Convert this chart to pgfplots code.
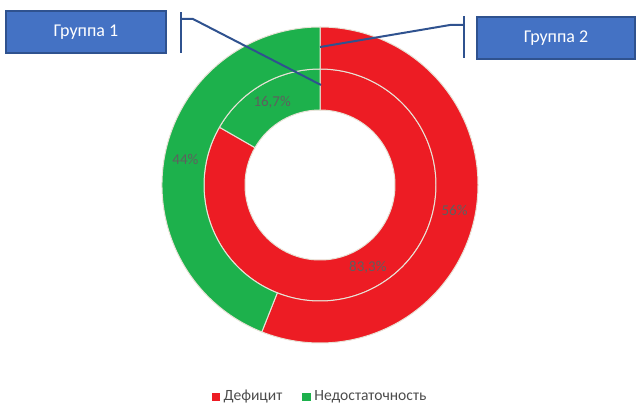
\documentclass[border=0pt]{standalone}
\usepackage{pgfplots}
\pgfplotsset{compat=1.18}
\usepackage{pgfplotstable}
\usepackage{fontspec}
\setmainfont{Carlito}
\definecolor{cred}{RGB}{237,28,36}
\definecolor{cgreen}{RGB}{29,177,76}
\definecolor{cbox}{RGB}{68,114,196}
\definecolor{cboxd}{RGB}{47,82,143}
\definecolor{clab}{RGB}{95,95,95}
\definecolor{sepcol}{RGB}{232,226,214}

% ring data: inner = Группа 1, outer = Группа 2
\pgfplotstableread{
ring  rin  rout  deficit  insuff
inner 75   116   83.3     16.7
outer 116  158   56       44
}\rings

\newcommand\sector[3]{%
  \filldraw[fill=#1, draw=sepcol, line width=0.5bp]
    ([shift={(#2:\Ro)}]axis cs:320,220) arc[start angle=#2, end angle=#3, radius=\Ro]
    -- ([shift={(#3:\Ri)}]axis cs:320,220) arc[start angle=#3, end angle=#2, radius=\Ri] -- cycle;}

\newcommand\drawring[1]{%
  \pgfplotstablegetelem{#1}{rin}\of\rings \pgfmathsetmacro\rin{\pgfplotsretval}%
  \pgfplotstablegetelem{#1}{rout}\of\rings \pgfmathsetmacro\rout{\pgfplotsretval}%
  \pgfplotstablegetelem{#1}{deficit}\of\rings \pgfmathsetmacro\vd{\pgfplotsretval}%
  \pgfplotstablegetelem{#1}{insuff}\of\rings \pgfmathsetmacro\vi{\pgfplotsretval}%
  \pgfmathsetmacro\aA{90}%
  \pgfmathsetmacro\aB{90-3.6*\vd}%
  \pgfmathsetmacro\aC{\aB-3.6*\vi}%
  \pgfmathsetlengthmacro\Ro{\rout*0.5bp}%
  \pgfmathsetlengthmacro\Ri{\rin*0.5bp}%
  \pgfmathsetlengthmacro\Rm{(\rin+\rout)*0.25bp}%
  \sector{cred}{\aA}{\aB}%
  \sector{cgreen}{\aB}{\aC}%
  \pgfmathsetmacro\mA{(\aA+\aB)/2}%
  \pgfmathsetmacro\mB{(\aB+\aC)/2}%
  \node[lab] at ([shift={(\mA:\Rm)}]axis cs:320,220) {\pgfmathprintnumber{\vd}\%};%
  \node[lab] at ([shift={(\mB:\Rm)}]axis cs:320,220) {\pgfmathprintnumber{\vi}\%};%
}

\begin{document}
\begin{tikzpicture}
\tikzset{lab/.style={font=\fontsize{7.5bp}{9bp}\selectfont, text=clab, inner sep=0pt}}
\begin{axis}[
  x=0.5bp, y=0.5bp, xmin=0, xmax=637, ymin=0, ymax=405,
  hide axis, clip=false, scale only axis,
  /pgf/number format/.cd, use comma, assume math mode=true,
  /pgfplots/.cd,
  legend style={at={(axis cs:321,8)}, anchor=center, draw=none, fill=none,
    font=\fontsize{7.8bp}{9bp}\selectfont, text=black!70,
    legend columns=2, inner sep=0pt,
    /tikz/every even column/.append style={column sep=8bp}},
  legend image code/.code={\fill[#1] (0bp,-1.9bp) rectangle (3.6bp,1.7bp);},
]
\addlegendimage{cred}\addlegendentry{Дефицит}
\addlegendimage{cgreen}\addlegendentry{Недостаточность}
\pgfplotsextra{%
  \drawring{0}%
  \drawring{1}%
  % callouts
  \draw[cboxd, line width=1bp] (axis cs:181,352) -- (axis cs:181,393);
  \draw[cboxd, line width=1bp] (axis cs:181,386) -- (axis cs:193,386) -- (axis cs:321,320);
  \draw[cboxd, line width=1bp] (axis cs:464,347) -- (axis cs:464,389);
  \draw[cboxd, line width=1bp] (axis cs:464,380) -- (axis cs:450,380) -- (axis cs:320,358);
  \node[fill=cbox, draw=cboxd, line width=0.6bp, text=white, minimum width=80bp,
        minimum height=21bp, inner sep=0pt, font=\fontsize{9bp}{10bp}\selectfont]
        at (axis cs:86,373) {Группа 1};
  \node[fill=cbox, draw=cboxd, line width=0.6bp, text=white, minimum width=79bp,
        minimum height=21bp, inner sep=0pt, font=\fontsize{9bp}{10bp}\selectfont]
        at (axis cs:556,367) {Группа 2};
  \path (axis cs:0,0) rectangle (axis cs:637,405);
}
\end{axis}
\end{tikzpicture}
\end{document}
